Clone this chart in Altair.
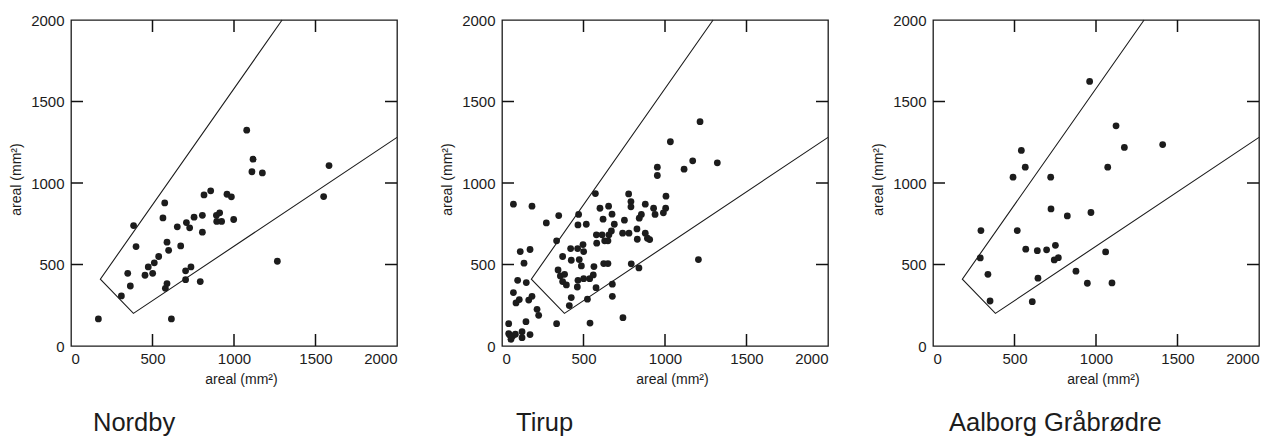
import altair as alt
import pandas as pd

# ---------------- data ----------------
nordby_x = [168, 309, 348, 364, 384, 399, 454, 474, 501, 511, 538, 564, 575, 579, 589,
            589, 599, 616, 652, 673, 703, 703, 708, 728, 736, 755, 793, 806, 806, 816,
            857, 892, 894, 912, 924, 957, 984, 998, 1078, 1117, 1110, 1174, 1266, 1550, 1583]
nordby_y = [166, 307, 446, 368, 739, 610, 434, 485, 446, 510, 549, 786, 878, 354, 383,
            637, 587, 166, 731, 614, 407, 461, 757, 725, 485, 790, 395, 698, 802, 927,
            952, 802, 764, 817, 764, 931, 915, 776, 1324, 1146, 1069, 1062, 520, 917, 1107]

tirup_x = [41, 70, 184, 41, 47, 55, 65, 82, 123, 123, 172, 70, 86, 96, 106,
           112, 135, 147, 149, 164, 172, 184, 215, 225, 272, 335, 335, 348, 344, 358,
           372, 372, 384, 395, 413, 421, 425, 425, 464, 466, 470, 474, 466, 462, 487,
           497, 501, 501, 517, 524, 538, 540, 560, 564, 573, 577, 579, 581, 601, 614,
           620, 624, 630, 650, 650, 654, 656, 671, 675, 677, 677, 689, 742, 751, 740,
           777, 779, 791, 791, 793, 828, 830, 840, 842, 855, 879, 879, 892, 906, 930,
           939, 953, 953, 990, 1004, 1006, 1033, 1117, 1170, 1205, 1215, 1321]
tirup_y = [137, 870, 858, 76, 68, 41, 61, 72, 51, 88, 70, 328, 264, 403, 285,
           579, 508, 149, 389, 282, 592, 305, 225, 188, 755, 645, 137, 800, 467, 430,
           395, 549, 440, 375, 248, 598, 526, 297, 598, 743, 807, 530, 403, 362, 491,
           622, 579, 413, 747, 287, 413, 141, 436, 487, 935, 358, 682, 631, 845, 682,
           778, 506, 645, 506, 645, 858, 682, 706, 809, 379, 305, 747, 174, 772, 692,
           933, 692, 886, 854, 504, 718, 655, 479, 784, 807, 870, 692, 661, 653, 845,
           807, 1097, 1046, 817, 845, 919, 1253, 1085, 1136, 530, 1376, 1124]

aalborg_x = [290, 294, 337, 350, 491, 517, 542, 566, 569, 609, 640, 644, 697, 722, 724,
             744, 751, 769, 824, 877, 947, 961, 969, 1059, 1072, 1098, 1123, 1174, 1409]
aalborg_y = [540, 708, 440, 276, 1036, 708, 1200, 1097, 594, 272, 585, 416, 590, 1036, 841,
             528, 618, 542, 798, 459, 385, 1623, 819, 577, 1097, 387, 1351, 1218, 1236]

panel_titles = ["Nordby", "Tirup", "Aalborg Gråbrødre"]
title_dx = [22, 14, 16]

axis_values = [0, 500, 1000, 1500, 2000]
inner_ticks = [500, 1000, 1500]
edge_lo = [0, 0, 0]
edge_hi = [2000, 2000, 2000]
poly_x = [1295, 180, 383, 2000]
poly_y = [2000, 410, 200, 1280]

FONT = "Liberation Sans"
INK = "#1c1c1c"
W = 326
TICK_AREA = 576  # symbol size; custom path of unit length -> 12 px


def panel(xs, ys, title, dx):
    pts = pd.DataFrame({"x": xs, "y": ys})
    poly = pd.DataFrame({"x": poly_x, "y": poly_y, "o": list(range(len(poly_x)))})
    tks = pd.DataFrame({"v": inner_ticks, "lo": edge_lo, "hi": edge_hi})

    xsc = alt.Scale(domain=[0, 2000], nice=False, zero=False)
    ysc = alt.Scale(domain=[0, 2000], nice=False, zero=False)
    xax = alt.Axis(values=axis_values, format="d", domain=False, ticks=False, tickSize=0,
                   grid=False, labelFontSize=15, labelPadding=5, labelColor=INK,
                   labelFont=FONT, title="areal (mm²)", titleFontSize=14,
                   titleFontWeight="normal", titleFont=FONT, titleColor=INK,
                   titlePadding=6, titleX=170)
    yax = alt.Axis(values=axis_values, format="d", domain=False, ticks=False, tickSize=0,
                   grid=False, labelFontSize=15, labelPadding=7, labelColor=INK,
                   labelFont=FONT, title="areal (mm²)", titleFontSize=14,
                   titleFontWeight="normal", titleFont=FONT, titleColor=INK,
                   titlePadding=7, titleY=159)

    dots = alt.Chart(pts).mark_circle(size=46, opacity=1, color=INK).encode(
        x=alt.X("x:Q", scale=xsc, axis=xax),
        y=alt.Y("y:Q", scale=ysc, axis=yax),
    )
    line = alt.Chart(poly).mark_line(color=INK, strokeWidth=1.1).encode(
        x="x:Q", y="y:Q", order="o:Q",
    )
    tick = dict(size=TICK_AREA, strokeWidth=1.5, color="#111111", opacity=1, filled=False)
    tb = alt.Chart(tks).mark_point(shape="M0,0L0,-1", **tick).encode(x="v:Q", y="lo:Q")
    tt = alt.Chart(tks).mark_point(shape="M0,0L0,1", **tick).encode(x="v:Q", y="hi:Q")
    tl = alt.Chart(tks).mark_point(shape="M0,0L1,0", **tick).encode(x="lo:Q", y="v:Q")
    tr = alt.Chart(tks).mark_point(shape="M0,0L-1,0", **tick).encode(x="hi:Q", y="v:Q")

    return alt.layer(dots, line, tb, tt, tl, tr).properties(
        width=W, height=W,
        title=alt.TitleParams(text=title, orient="bottom", anchor="start", frame="group",
                              dx=dx, offset=25, fontSize=25.5, fontWeight="normal",
                              font=FONT, color=INK),
    )


chart = alt.hconcat(
    panel(nordby_x, nordby_y, panel_titles[0], title_dx[0]),
    panel(tirup_x, tirup_y, panel_titles[1], title_dx[1]),
    panel(aalborg_x, aalborg_y, panel_titles[2], title_dx[2]),
    spacing=38,
).configure(
    padding={"left": 0, "top": 4, "right": 0, "bottom": 0},
    background="white",
).configure_view(
    stroke=INK, strokeWidth=1.3
)

chart.save("out.html", embed_options={"renderer": "svg", "actions": False})
